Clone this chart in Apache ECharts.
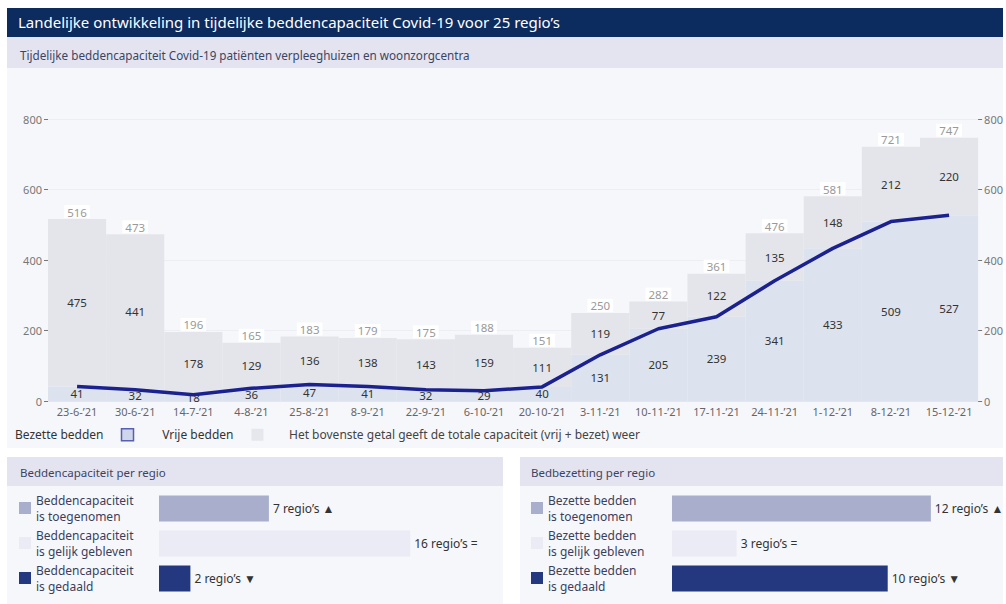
<!DOCTYPE html>
<html>
<head>
<meta charset="utf-8">
<script src="https://cdn.jsdelivr.net/npm/echarts@6/dist/echarts.min.js"></script>
<style>
  html, body { margin: 0; padding: 0; background: #ffffff; }
  #chart { width: 1006px; height: 604px; }
</style>
</head>
<body>
<div id="chart"></div>
<script>
// weken
const categories = ["23-6-’21", "30-6-’21", "14-7-’21", "4-8-’21", "25-8-’21", "8-9-’21", "22-9-’21", "6-10-’21",
  "20-10-’21", "3-11-’21", "10-11-’21", "17-11-’21", "24-11-’21", "1-12-’21", "8-12-’21", "15-12-’21"];
const bezetteBedden = [41, 32, 18, 36, 47, 41, 32, 29, 40, 131, 205, 239, 341, 433, 509, 527];
const vrijeBedden = [475, 441, 178, 129, 136, 138, 143, 159, 111, 119, 77, 122, 135, 148, 212, 220];
const totaal = [516, 473, 196, 165, 183, 179, 175, 188, 151, 250, 282, 361, 476, 581, 721, 747];
const yTicks = [0, 200, 400, 600, 800];

// per regio
const capaciteitNamen = ["Beddencapaciteit\nis toegenomen", "Beddencapaciteit\nis gelijk gebleven", "Beddencapaciteit\nis gedaald"];
const capaciteitRegios = [7, 16, 2];
const bezettingNamen = ["Bezette bedden\nis toegenomen", "Bezette bedden\nis gelijk gebleven", "Bezette bedden\nis gedaald"];
const bezettingRegios = [12, 3, 10];
const tekens = ["▲", "=", "▼"];
const regioKleuren = ["#a8aecb", "#eaebf5", "#24387f"];

const font = "Noto Sans";
const chart = echarts.init(document.getElementById("chart"), null, { renderer: "svg" });

function regioSeries(namen, waarden, xi, stack) {
  return namen.map((naam, i) => ({
    name: naam,
    type: "bar",
    stack: stack,
    xAxisIndex: xi,
    yAxisIndex: xi,
    barWidth: 26,
    data: waarden.map((v, j) => (j === i ? v : "-")),
    itemStyle: { color: regioKleuren[i] },
    label: {
      show: true,
      position: "right",
      distance: 4,
      color: "#333",
      fontSize: 12,
      fontFamily: font,
      formatter: (p) => p.value + " regio’s " + tekens[i],
    },
  }));
}

const option = {
  animation: false,
  textStyle: { fontFamily: font },
  graphic: [
    { type: "rect", shape: { x: 7, y: 8, width: 996, height: 29 }, style: { fill: "#0c2b5e" }, silent: true },
    { type: "text", x: 18, y: 22, style: { text: "Landelijke ontwikkeling in tijdelijke beddencapaciteit Covid-19 voor 25 regio’s",
      fill: "#fff", fontSize: 15, fontFamily: font, verticalAlign: "middle" } },
    { type: "rect", shape: { x: 7, y: 37, width: 996, height: 31 }, style: { fill: "#e4e4f1" }, silent: true, z: -10 },
    { type: "text", x: 20, y: 55, style: { text: "Tijdelijke beddencapaciteit Covid-19 patiënten verpleeghuizen en woonzorgcentra",
      fill: "#3b4563", fontSize: 11.7, fontFamily: font, verticalAlign: "middle" } },
    { type: "rect", shape: { x: 7, y: 68, width: 996, height: 380 }, style: { fill: "#f6f7fb" }, silent: true, z: -10 },
    { type: "text", x: 289, y: 434, style: { text: "Het bovenste getal geeft de totale capaciteit (vrij + bezet) weer",
      fill: "#444", fontSize: 12, fontFamily: font, verticalAlign: "middle" } },
    // paneel links
    { type: "rect", shape: { x: 7, y: 457, width: 496, height: 147 }, style: { fill: "#f6f7fb" }, silent: true, z: -10 },
    { type: "rect", shape: { x: 7, y: 457, width: 496, height: 29 }, style: { fill: "#e4e4f1" }, silent: true, z: -9 },
    { type: "text", x: 20, y: 472, style: { text: "Beddencapaciteit per regio", fill: "#3b4563", fontSize: 11.5, fontFamily: font, verticalAlign: "middle" } },
    // paneel rechts
    { type: "rect", shape: { x: 520, y: 457, width: 483, height: 147 }, style: { fill: "#f6f7fb" }, silent: true, z: -10 },
    { type: "rect", shape: { x: 520, y: 457, width: 483, height: 29 }, style: { fill: "#e4e4f1" }, silent: true, z: -9 },
    { type: "text", x: 531, y: 472, style: { text: "Bedbezetting per regio", fill: "#3b4563", fontSize: 11.5, fontFamily: font, verticalAlign: "middle" } },
  ],
  legend: [
    {
      data: [
        { name: "Bezette bedden", itemStyle: { color: "#cfd6ec", borderColor: "#5560b0", borderWidth: 1.5 } },
        { name: "Vrije bedden", itemStyle: { color: "#e6e7ec" } },
      ],
      left: 15,
      top: 428,
      padding: 0,
      align: "right",
      icon: "rect",
      itemWidth: 12,
      itemHeight: 12,
      itemGap: 28,
      selectedMode: false,
      textStyle: { color: "#333", fontSize: 12, fontFamily: font, padding: [0, 13, 0, 0] },
    },
    {
      data: capaciteitNamen,
      orient: "vertical",
      left: 19,
      top: 492,
      padding: 0,
      icon: "rect",
      itemWidth: 12,
      itemHeight: 12,
      itemGap: 3,
      selectedMode: false,
      textStyle: { color: "#3a3f5c", fontSize: 12, lineHeight: 16, fontFamily: font },
    },
    {
      data: bezettingNamen,
      orient: "vertical",
      left: 531,
      top: 492,
      padding: 0,
      icon: "rect",
      itemWidth: 12,
      itemHeight: 12,
      itemGap: 3,
      selectedMode: false,
      textStyle: { color: "#3a3f5c", fontSize: 12, lineHeight: 16, fontFamily: font },
    },
  ],
  grid: [
    { left: 48, right: 26, top: 119, bottom: 203 },
    { left: 159, width: 314, top: 491, height: 105 },
    { left: 672, width: 302, top: 491, height: 105 },
  ],
  xAxis: [
    {
      type: "category",
      data: categories,
      gridIndex: 0,
      axisLine: { lineStyle: { color: "#e3e6ee" } },
      axisTick: { show: false },
      axisLabel: { color: "#666", fontSize: 11, margin: 5, interval: 0 },
    },
    { type: "value", gridIndex: 1, min: 0, max: 20, show: false },
    { type: "value", gridIndex: 2, min: 0, max: 14, show: false },
  ],
  yAxis: [
    {
      type: "value",
      gridIndex: 0,
      min: yTicks[0],
      max: yTicks[yTicks.length - 1],
      interval: 200,
      axisLine: { show: false },
      axisTick: { show: true, length: 4, lineStyle: { color: "#777" } },
      axisLabel: { color: "#777", fontSize: 11, margin: 6 },
      splitLine: { lineStyle: { color: "#eceef4" } },
    },
    { type: "category", gridIndex: 1, data: [0, 1, 2], inverse: true, show: false },
    { type: "category", gridIndex: 2, data: [0, 1, 2], inverse: true, show: false },
    {
      type: "value",
      gridIndex: 0,
      position: "right",
      min: yTicks[0],
      max: yTicks[yTicks.length - 1],
      interval: 200,
      offset: 4,
      axisLine: { show: false },
      axisTick: { show: true, length: 4, inside: true, lineStyle: { color: "#777" } },
      axisLabel: { color: "#777", fontSize: 11, margin: 2 },
      splitLine: { show: false },
    },
  ],
  series: [
    {
      name: "Bezette bedden",
      type: "bar",
      stack: "bedden",
      barCategoryGap: 0,
      data: bezetteBedden,
      itemStyle: { color: "#dce2ee" },
      label: { show: true, position: "inside", color: "#333", fontSize: 11.5 },
    },
    {
      name: "Vrije bedden",
      type: "bar",
      stack: "bedden",
      barCategoryGap: 0,
      data: vrijeBedden,
      itemStyle: { color: "#e4e5ea" },
      label: { show: true, position: "inside", color: "#333", fontSize: 11.5 },
    },
    {
      name: "Totaal",
      type: "bar",
      barGap: "-100%",
      barCategoryGap: 0,
      data: totaal,
      silent: true,
      itemStyle: { color: "rgba(0,0,0,0)" },
      label: {
        show: true,
        position: "top",
        distance: 1,
        color: "#999",
        fontSize: 11.5,
        backgroundColor: "#fff",
        padding: [1, 3, 0, 3],
      },
    },
    {
      name: "Lijn bezet",
      type: "line",
      data: bezetteBedden,
      symbol: "none",
      z: 10,
      lineStyle: { color: "#1b2290", width: 3.5 },
    },
    ...regioSeries(capaciteitNamen, capaciteitRegios, 1, "l"),
    ...regioSeries(bezettingNamen, bezettingRegios, 2, "r"),
  ],
};

chart.setOption(option);
</script>
</body>
</html>
